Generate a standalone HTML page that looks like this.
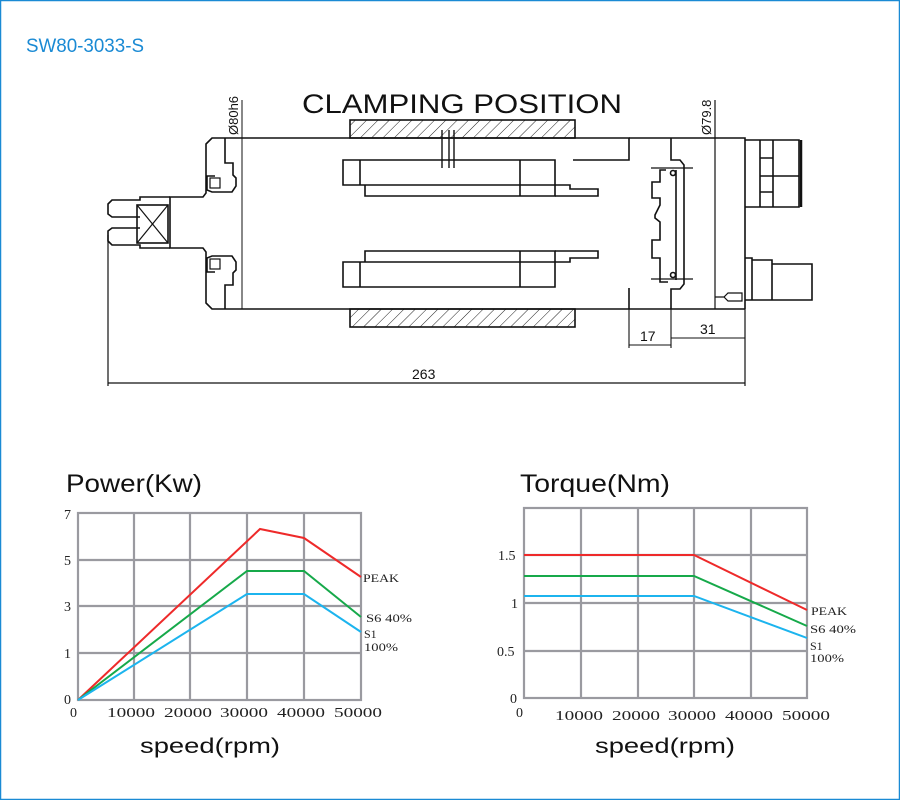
<!DOCTYPE html>
<html><head><meta charset="utf-8"><style>
html,body{margin:0;padding:0;background:#fff}
svg{display:block}
</style></head><body>
<svg width="900" height="800" viewBox="0 0 900 800" xmlns="http://www.w3.org/2000/svg" font-family="Liberation Sans, sans-serif">
<defs>
<pattern id="h" width="8" height="8" patternUnits="userSpaceOnUse" patternTransform="rotate(45)">
<line x1="0" y1="0" x2="0" y2="8" stroke="#222" stroke-width="1"/>
</pattern>
</defs>
<rect x="0.5" y="0.5" width="899" height="799" fill="#fff" stroke="#1a8ad4" stroke-width="1.5"/>
<text x="26" y="52" font-size="19" fill="#1a8ad4" textLength="118" lengthAdjust="spacingAndGlyphs">SW80-3033-S</text>

<g fill="none" stroke="#111" stroke-width="1.6">
<text x="302" y="113" font-size="27" fill="#111" stroke="none" textLength="320" lengthAdjust="spacingAndGlyphs">CLAMPING POSITION</text>
<rect x="350" y="120" width="225" height="18" fill="url(#h)"/>
<rect x="350" y="309" width="225" height="18" fill="url(#h)"/>
<path d="M242 138 H629 V160 H573"/>
<path d="M242 309 H745"/>
<path d="M629 138 H745 V309"/>
<path d="M629 288 V309"/>
<line x1="242" y1="100" x2="242" y2="309" stroke-width="1"/>
<line x1="715" y1="100" x2="715" y2="309" stroke-width="1.2"/>
<path d="M242 138 H212 L206 144 V193 L203 197 H170 V248 H203 L206 252 V303 L212 309 H242"/>
<path d="M225 138 V163 H233 V175 L236 178 V186 L232 192 H212 L207 190 V176 H215"/>
<path d="M225 309 V285 H233 V273 L236 270 V262 L232 256 H212 L207 258 V272 H215"/>
<rect x="210" y="178" width="10" height="10" stroke-width="1.2"/>
<rect x="210" y="259" width="10" height="10" stroke-width="1.2"/>
<path d="M170 197 H140 V200 H112 L108 204 V214 L112 217 H140"/>
<path d="M170 248 H140 V245 H112 L108 241 V231 L112 228 H140"/>
<rect x="137" y="205" width="31" height="38"/>
<line x1="137" y1="205" x2="168" y2="243" stroke-width="1.2"/>
<line x1="168" y1="205" x2="137" y2="243" stroke-width="1.2"/>
<line x1="108" y1="235" x2="108" y2="386" stroke-width="1.2"/>
<line x1="745" y1="309" x2="745" y2="386" stroke-width="1.2"/>
<line x1="108" y1="383" x2="745" y2="383" stroke-width="1.2"/>
<path d="M360 160 H343 V185 H360 Z M360 160 H555 V185 H360"/>
<path d="M365 185 V196 H555 V185"/>
<path d="M520 160 V196"/>
<path d="M555 185 H570 V189 H598 V196 H555"/>
<path d="M360 262 H343 V287 H360 Z M360 287 H555 V262 H360"/>
<path d="M365 262 V251 H555 V262"/>
<path d="M520 251 V287"/>
<path d="M555 262 H570 V258 H598 V251 H555"/>
<line x1="442" y1="130" x2="442" y2="168" stroke-width="1.4"/>
<line x1="449" y1="130" x2="449" y2="168" stroke-width="1.4"/>
<line x1="454" y1="130" x2="454" y2="168" stroke-width="1.4"/>
<path d="M671 138 V160 H680 L684 165 V284 L680 289 H671 V309"/>
<path d="M666 170 H660 V182 H652 V198 H660 V205 L655 215 V218 L660 222 V240 H652 V258 H660 V282 H668"/>
<path d="M676 170 V280"/>
<line x1="651" y1="168" x2="693" y2="168" stroke-width="1.3"/>
<line x1="651" y1="279" x2="693" y2="279" stroke-width="1.3"/>
<circle cx="673" cy="173" r="2.5"/>
<circle cx="673" cy="275" r="2.5"/>
<path d="M715 297 H724 L728 293 H742 V301 H728 L724 297" stroke-width="1.2"/>
<path d="M745 140 H760 V207 H745 M760 140 H799 V176 H760 M760 176 H799 V207 H760 M760 158 H773 M760 192 H773 M773 140 V207"/>
<line x1="801" y1="140" x2="801" y2="207" stroke-width="2.5"/>
<path d="M745 258 H752 V300 H745 M752 260 H772 V300 H752 M772 264 H812 V300 H772"/>
<line x1="629" y1="309" x2="629" y2="348" stroke-width="1.1"/>
<line x1="671" y1="309" x2="671" y2="348" stroke-width="1.1"/>
<line x1="629" y1="345" x2="671" y2="345" stroke-width="1.1"/>
<line x1="671" y1="338" x2="745" y2="338" stroke-width="1.1"/>
</g>
<g font-size="14" fill="#111">
<text x="640" y="341">17</text>
<text x="700" y="334">31</text>
<text x="412" y="379">263</text>
<text transform="translate(238,135) rotate(-90)" font-size="13">Ø80h6</text>
<text transform="translate(711,135) rotate(-90)" font-size="13">Ø79.8</text>
</g>

<text x="66" y="492" font-size="25" fill="#111" textLength="136" lengthAdjust="spacingAndGlyphs">Power(Kw)</text>
<g stroke="#9a9aa0" stroke-width="2.2" fill="none">
<rect x="78" y="513" width="283" height="187"/>
<line x1="134" y1="513" x2="134" y2="700"/><line x1="190" y1="513" x2="190" y2="700"/>
<line x1="247" y1="513" x2="247" y2="700"/><line x1="304" y1="513" x2="304" y2="700"/>
<line x1="78" y1="560" x2="361" y2="560"/><line x1="78" y1="606" x2="361" y2="606"/><line x1="78" y1="653" x2="361" y2="653"/>
</g>
<g fill="none" stroke-width="2">
<polyline points="78,700 260,529 304,538 361,577" stroke="#ee2a2a"/>
<polyline points="78,700 247,571 304,571 361,617" stroke="#16a94a"/>
<polyline points="78,700 247,594 304,594 361,632" stroke="#1cb4ee"/>
</g>
<g font-family="Liberation Serif, serif" font-size="14" fill="#222">
<text x="64" y="519">7</text><text x="64" y="565">5</text><text x="64" y="611">3</text><text x="64" y="658">1</text><text x="64" y="704">0</text>
<text x="70" y="717">0</text>
<text x="107" y="717" textLength="48" lengthAdjust="spacingAndGlyphs">10000</text><text x="164" y="717" textLength="48" lengthAdjust="spacingAndGlyphs">20000</text><text x="220" y="717" textLength="48" lengthAdjust="spacingAndGlyphs">30000</text><text x="277" y="717" textLength="48" lengthAdjust="spacingAndGlyphs">40000</text><text x="334" y="717" textLength="48" lengthAdjust="spacingAndGlyphs">50000</text>
<text x="363" y="582" font-size="12" textLength="36" lengthAdjust="spacingAndGlyphs">PEAK</text><text x="366" y="622" font-size="12" textLength="46" lengthAdjust="spacingAndGlyphs">S6 40%</text>
<text x="364" y="638" font-size="12">S1</text><text x="364" y="651" font-size="12" textLength="34" lengthAdjust="spacingAndGlyphs">100%</text>
</g>
<text x="140" y="753" font-size="21" fill="#111" textLength="140" lengthAdjust="spacingAndGlyphs">speed(rpm)</text>

<text x="520" y="492" font-size="25" fill="#111" textLength="150" lengthAdjust="spacingAndGlyphs">Torque(Nm)</text>
<g stroke="#9a9aa0" stroke-width="2.2" fill="none">
<rect x="524" y="508" width="283" height="190"/>
<line x1="581" y1="508" x2="581" y2="698"/><line x1="638" y1="508" x2="638" y2="698"/>
<line x1="694" y1="508" x2="694" y2="698"/><line x1="751" y1="508" x2="751" y2="698"/>
<line x1="524" y1="555" x2="807" y2="555"/><line x1="524" y1="603" x2="807" y2="603"/><line x1="524" y1="651" x2="807" y2="651"/>
</g>
<g fill="none" stroke-width="2">
<polyline points="524,555 694,555 807,610" stroke="#ee2a2a"/>
<polyline points="524,576 694,576 807,626" stroke="#16a94a"/>
<polyline points="524,596 694,596 807,638" stroke="#1cb4ee"/>
</g>
<g font-family="Liberation Serif, serif" font-size="14" fill="#222">
<text x="498" y="560">1.5</text><text x="511" y="608">1</text><text x="497" y="656">0.5</text><text x="510" y="703">0</text>
<text x="516" y="717">0</text>
<text x="555" y="720" textLength="48" lengthAdjust="spacingAndGlyphs">10000</text><text x="612" y="720" textLength="48" lengthAdjust="spacingAndGlyphs">20000</text><text x="668" y="720" textLength="48" lengthAdjust="spacingAndGlyphs">30000</text><text x="725" y="720" textLength="48" lengthAdjust="spacingAndGlyphs">40000</text><text x="782" y="720" textLength="48" lengthAdjust="spacingAndGlyphs">50000</text>
<text x="811" y="615" font-size="12" textLength="36" lengthAdjust="spacingAndGlyphs">PEAK</text><text x="810" y="633" font-size="12" textLength="46" lengthAdjust="spacingAndGlyphs">S6 40%</text>
<text x="810" y="650" font-size="12">S1</text><text x="810" y="662" font-size="12" textLength="34" lengthAdjust="spacingAndGlyphs">100%</text>
</g>
<text x="595" y="753" font-size="21" fill="#111" textLength="140" lengthAdjust="spacingAndGlyphs">speed(rpm)</text>
</svg>
</body></html>
